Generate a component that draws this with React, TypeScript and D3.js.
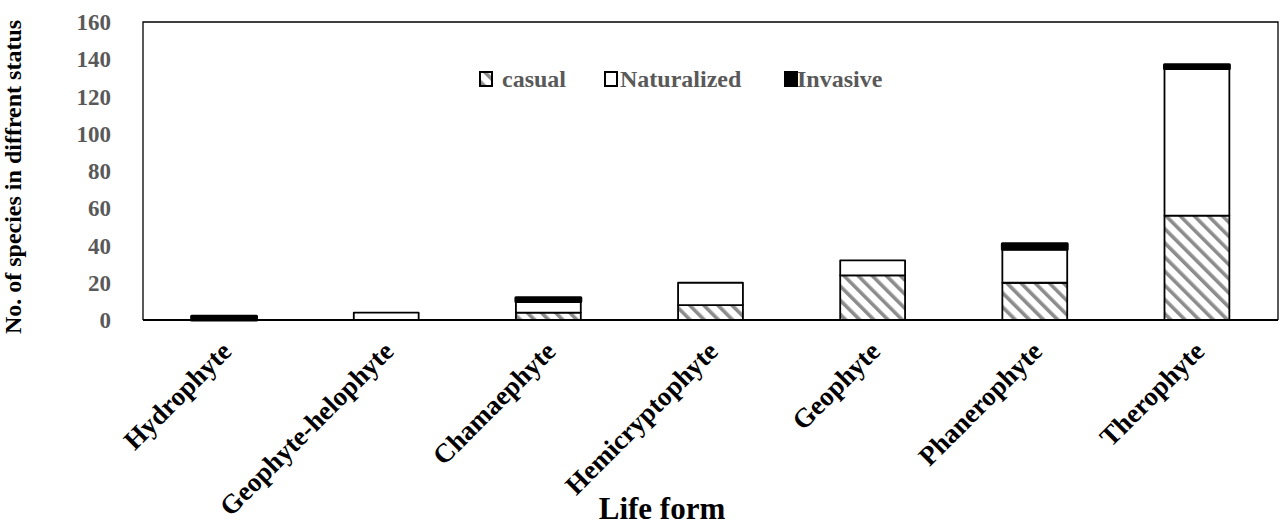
import React from "react";
import * as d3 from "d3";

const categories = ["Hydrophyte", "Geophyte-helophyte", "Chamaephyte", "Hemicryptophyte", "Geophyte", "Phanerophyte", "Therophyte"];
const casual = [0, 0, 4, 8, 24, 20, 56];
const naturalized = [0, 4, 6, 12, 8, 18, 79];
const invasive = [2, 0, 2, 0, 0, 3, 2];
const seriesNames = ["casual", "Naturalized", "Invasive"];
const yTicks = [0, 20, 40, 60, 80, 100, 120, 140, 160];

const W = 1279, H = 525;
const M = { left: 143, right: 1278, top: 22, bottom: 320 };
const FONT = "'Liberation Serif', 'Times New Roman', serif";

export default function App() {
  const x = d3.scaleBand<string>().domain(categories).range([M.left, M.right]).paddingInner(0.6).paddingOuter(0.3);
  const y = d3.scaleLinear().domain([0, 160]).range([M.bottom, M.top]);

  const rows = categories.map((c, i) => ({ cat: c, casual: casual[i], Naturalized: naturalized[i], Invasive: invasive[i] }));
  const stack = d3.stack<any>().keys(seriesNames)(rows);

  const fills: Record<string, string> = { casual: "url(#hatch)", Naturalized: "#ffffff", Invasive: "#000000" };
  const strokeW: Record<string, number> = { casual: 1.8, Naturalized: 1.8, Invasive: 3 };

  const legendX = [480, 605, 785];
  const textX = [502, 620, 797];

  return (
    <svg width={W} height={H} style={{ position: "absolute", left: 0, top: 0, background: "#fff" }} fontFamily={FONT}>
      <defs>
        <pattern id="hatch" patternUnits="userSpaceOnUse" width="10" height="10" patternTransform="rotate(-45)">
          <rect width="10" height="10" fill="#ffffff" />
          <rect x="0" y="0" width="3.6" height="10" fill="#8c8c8c" />
        </pattern>
      </defs>
      {/* plot frame */}
      <path d={`M${M.left},${M.bottom} V${M.top} H${M.right} V${M.bottom}`} fill="none" stroke="#000" strokeWidth={1.3} />
      {/* bars */}
      {stack.map((s) => (
        <g key={s.key}>
          {s.map((d, i) => {
            const h = y(d[0]) - y(d[1]);
            if (h <= 0) return null;
            return (
              <rect key={i} x={x(categories[i])!} y={y(d[1])} width={x.bandwidth()} height={h}
                fill={fills[s.key]} stroke="#000" strokeWidth={strokeW[s.key]} strokeLinejoin="round" />
            );
          })}
        </g>
      ))}
      {/* x axis line */}
      <line x1={M.left} x2={M.right} y1={M.bottom} y2={M.bottom} stroke="#000" strokeWidth={2} />
      {/* y tick labels */}
      {yTicks.map((t) => (
        <text key={t} x={111} y={y(t)} dy="0.35em" textAnchor="end" fontSize={23} fontWeight="bold" fill="#595959">{t}</text>
      ))}
      {/* x labels */}
      {categories.map((c) => {
        const cx = x(c)! + x.bandwidth() / 2 + 9;
        const cy = 353;
        return (
          <text key={c} x={cx} y={cy} textAnchor="end" fontSize={27} fontWeight="bold" fill="#000" transform={`rotate(-45 ${cx} ${cy})`}>{c}</text>
        );
      })}
      {/* legend */}
      {seriesNames.map((n, i) => (
        <g key={n}>
          <rect x={legendX[i]} y={72} width={12} height={14} fill={fills[n]} stroke="#000" strokeWidth={2} />
          <text x={textX[i]} y={87} fontSize={24} fontWeight="bold" fill="#595959">{n}</text>
        </g>
      ))}
      {/* axis titles */}
      <text x={662} y={519} textAnchor="middle" fontSize={31} fontWeight="bold" fill="#000">Life form</text>
      <text transform={`translate(21,177) rotate(-90)`} textAnchor="middle" fontSize={24} fontWeight="bold" fill="#000">No. of species in diffrent status</text>
    </svg>
  );
}
